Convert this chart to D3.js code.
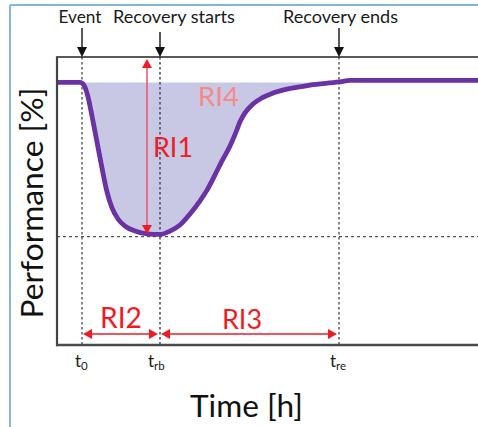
<!DOCTYPE html>
<html>
<head>
<meta charset="utf-8">
<script src="https://cdn.jsdelivr.net/npm/d3@7"></script>
<style>
  html, body { margin: 0; padding: 0; background: #fff; }
  svg { display: block; }
  text, tspan { font-family: Lato, "Open Sans", "DejaVu Sans", sans-serif; }
</style>
</head>
<body>
<svg id="chart" width="478" height="427"></svg>
<script>
// Performance curve over time (hours) around a disruptive event
const timeH = [0, 2.3, 2.7, 3.1, 3.5, 4.0, 4.5, 5.0, 5.5, 6.1, 6.8, 7.8, 9.0, 10.3, 11.3, 12.3, 13.3, 14.3, 15.0, 15.8, 16.5, 17.3, 17.9, 18.3, 18.8, 19.6, 20.5, 21.5, 23.3, 25.3, 28.2, 29.3, 34.3, 42.1];
const performancePct = [100.0, 100.0, 99.0, 94.5, 87.2, 77.3, 67.4, 58.3, 52.2, 48.0, 45.3, 43.4, 42.3, 42.1, 43.4, 45.7, 49.9, 54.9, 59.0, 64.8, 70.1, 75.8, 81.1, 85.0, 88.4, 91.8, 94.1, 95.8, 97.7, 99.0, 100.2, 100.8, 100.8, 100.8];

// Key instants: event, recovery begins, recovery ends
const phaseTimes = [2.5, 10.3, 28.2];
const phaseLabels = ["Event", "Recovery starts", "Recovery ends"];
const tickMain = ["t", "t", "t"];
const tickSub = ["0", "rb", "re"];

// Reference levels
const nominalPerf = 100;
const minimumPerf = 42.1;
const ri1Time = 9.0;

const FONT = "Lato, 'Open Sans', 'DejaVu Sans', sans-serif";
const svg = d3.select("#chart");

const x = d3.scaleLinear().domain([0, 42.1]).range([57, 478]);
const y = d3.scaleLinear().domain([0, 109.7]).range([345, 57]);

// Scale a text's font size so it spans a given width
function fitWidth(sel, w) {
  const n = sel.node();
  const fs = parseFloat(sel.attr("font-size"));
  const len = n.getComputedTextLength();
  if (len > 0) sel.attr("font-size", fs * w / len);
  return sel;
}

// Outer frame
svg.append("line").attr("x1", 10).attr("x2", 10).attr("y1", 5).attr("y2", 427)
  .attr("stroke", "#86b6dd").attr("stroke-width", 2);
svg.append("line").attr("x1", 10).attr("x2", 478).attr("y1", 5).attr("y2", 5)
  .attr("stroke", "#86b6dd").attr("stroke-width", 2);

const pts = timeH.map((t, i) => [t, performancePct[i]]);

// Shaded loss area between nominal level and curve
const clipId = "lossClip";
svg.append("clipPath").attr("id", clipId).append("rect")
  .attr("x", x(phaseTimes[0])).attr("y", 0)
  .attr("width", x(phaseTimes[2]) - x(phaseTimes[0])).attr("height", 427);

const area = d3.area()
  .x(d => x(d[0]))
  .y0(y(nominalPerf))
  .y1(d => y(Math.min(d[1], nominalPerf)))
  .curve(d3.curveMonotoneX);

svg.append("path").datum(pts)
  .attr("d", area)
  .attr("fill", "#c8c8e5")
  .attr("clip-path", `url(#${clipId})`);

// Dashed guide lines
const dash = g => g.attr("stroke", "#555").attr("stroke-width", 1.4).attr("stroke-dasharray", "2.5,2.5");
phaseTimes.forEach((t, i) => {
  svg.append("line")
    .attr("x1", x(t)).attr("x2", x(t))
    .attr("y1", y.range()[1]).attr("y2", y.range()[0])
    .call(dash)
    .attr("stroke", i === 1 ? "#3c3c5a" : "#555");
});
svg.append("line")
  .attr("x1", x.range()[0]).attr("x2", x.range()[1])
  .attr("y1", y(minimumPerf) + 2.2).attr("y2", y(minimumPerf) + 2.2)
  .call(dash).attr("stroke-dasharray", "3,3");

// Performance curve
svg.append("path").datum(pts)
  .attr("d", d3.line().x(d => x(d[0])).y(d => y(d[1])).curve(d3.curveMonotoneX))
  .attr("fill", "none")
  .attr("stroke", "#6a32a2")
  .attr("stroke-width", 4.8)
  .attr("stroke-linejoin", "round");

// Plot frame
svg.append("line").attr("x1", x.range()[0]).attr("x2", x.range()[1])
  .attr("y1", y.range()[1]).attr("y2", y.range()[1])
  .attr("stroke", "#222").attr("stroke-width", 1.5);
svg.append("line").attr("x1", x.range()[0]).attr("x2", x.range()[0])
  .attr("y1", y.range()[1] - 0.75).attr("y2", y.range()[0] + 1.2)
  .attr("stroke", "#444").attr("stroke-width", 2.2);
svg.append("line").attr("x1", x.range()[0] - 1).attr("x2", x.range()[1])
  .attr("y1", y.range()[0]).attr("y2", y.range()[0])
  .attr("stroke", "#4a4a4a").attr("stroke-width", 2.6);

// Event marker arrows and labels
const labelCenters = [80, 174, 340.5];
const labelWidths = [43, 122, 115];
const arrowTops = [28, 32, 28];
phaseTimes.forEach((t, i) => {
  const cx = x(t), top = y.range()[1];
  svg.append("line").attr("x1", cx).attr("x2", cx).attr("y1", arrowTops[i]).attr("y2", top - 8)
    .attr("stroke", "#111").attr("stroke-width", 1.4);
  svg.append("path").attr("d", `M${cx - 5},${top - 10}L${cx + 5},${top - 10}L${cx},${top}Z`).attr("fill", "#111");
  const lbl = svg.append("text").attr("x", labelCenters[i]).attr("y", 23)
    .attr("text-anchor", "middle").attr("font-family", FONT).attr("font-size", 17)
    .attr("fill", "#1a1a1a").text(phaseLabels[i]);
  fitWidth(lbl, labelWidths[i]);
});

// Red annotation arrows
const red = "#ee1c25";
function arrowHead(tipX, tipY, dir) {
  const L = 9, W = 5;
  let p;
  if (dir === "up") p = [[tipX, tipY], [tipX - W, tipY + L], [tipX + W, tipY + L]];
  if (dir === "down") p = [[tipX, tipY], [tipX - W, tipY - L], [tipX + W, tipY - L]];
  if (dir === "left") p = [[tipX, tipY], [tipX + L, tipY - W], [tipX + L, tipY + W]];
  if (dir === "right") p = [[tipX, tipY], [tipX - L, tipY - W], [tipX - L, tipY + W]];
  svg.append("path").attr("d", "M" + p.join("L") + "Z").attr("fill", red);
}

// RI1: depth of performance loss
const r1x = x(ri1Time);
const r1top = y(108.9), r1bot = y(minimumPerf) - 0.5;
svg.append("line").attr("x1", r1x).attr("x2", r1x).attr("y1", r1top + 6).attr("y2", r1bot - 6)
  .attr("stroke", "#f0506a").attr("stroke-width", 1.5);
arrowHead(r1x, r1top, "up");
arrowHead(r1x, r1bot, "down");

// RI2 and RI3: durations
const durY = y(4.2);
[[phaseTimes[0], phaseTimes[1]], [phaseTimes[1], phaseTimes[2]]].forEach(([a, b]) => {
  const xa = x(a) + 1, xb = x(b) - 2;
  svg.append("line").attr("x1", xa + 6).attr("x2", xb - 6).attr("y1", durY).attr("y2", durY)
    .attr("stroke", red).attr("stroke-width", 1.5);
  arrowHead(xa, durY, "left");
  arrowHead(xb, durY, "right");
});

// RI labels
const riLabels = [
  { text: "RI1", x: 153, y: 157, w: 40, c: red },
  { text: "RI4", x: 198, y: 106, w: 41, c: "#f58a8a" },
  { text: "RI2", x: 100, y: 328, w: 42, c: red },
  { text: "RI3", x: 222, y: 329, w: 40, c: red }
];
riLabels.forEach(d => {
  const t = svg.append("text").attr("x", d.x).attr("y", d.y)
    .attr("font-family", FONT).attr("font-size", 30)
    .attr("fill", d.c).text(d.text);
  fitWidth(t, d.w);
});

// Time markers under the axis
const tickStarts = [75, 148, 330];
phaseTimes.forEach((t, i) => {
  const txt = svg.append("text").attr("x", tickStarts[i]).attr("y", 367)
    .attr("font-family", FONT).attr("font-size", 17).attr("fill", "#222");
  txt.append("tspan").attr("font-family", FONT).text(tickMain[i]);
  txt.append("tspan").attr("font-family", FONT).attr("font-size", 11.5).attr("dy", 3).text(tickSub[i]);
});

// Axis titles
const xt = svg.append("text").attr("x", 190).attr("y", 417)
  .attr("font-family", FONT).attr("font-size", 30)
  .attr("fill", "#111").text("Time [h]");
fitWidth(xt, 113);

const yt = svg.append("text")
  .attr("transform", "translate(43,203) rotate(-90)")
  .attr("text-anchor", "middle").attr("font-family", FONT).attr("font-size", 30)
  .attr("fill", "#111").text("Performance [%]");
fitWidth(yt, 231);
</script>
</body>
</html>
